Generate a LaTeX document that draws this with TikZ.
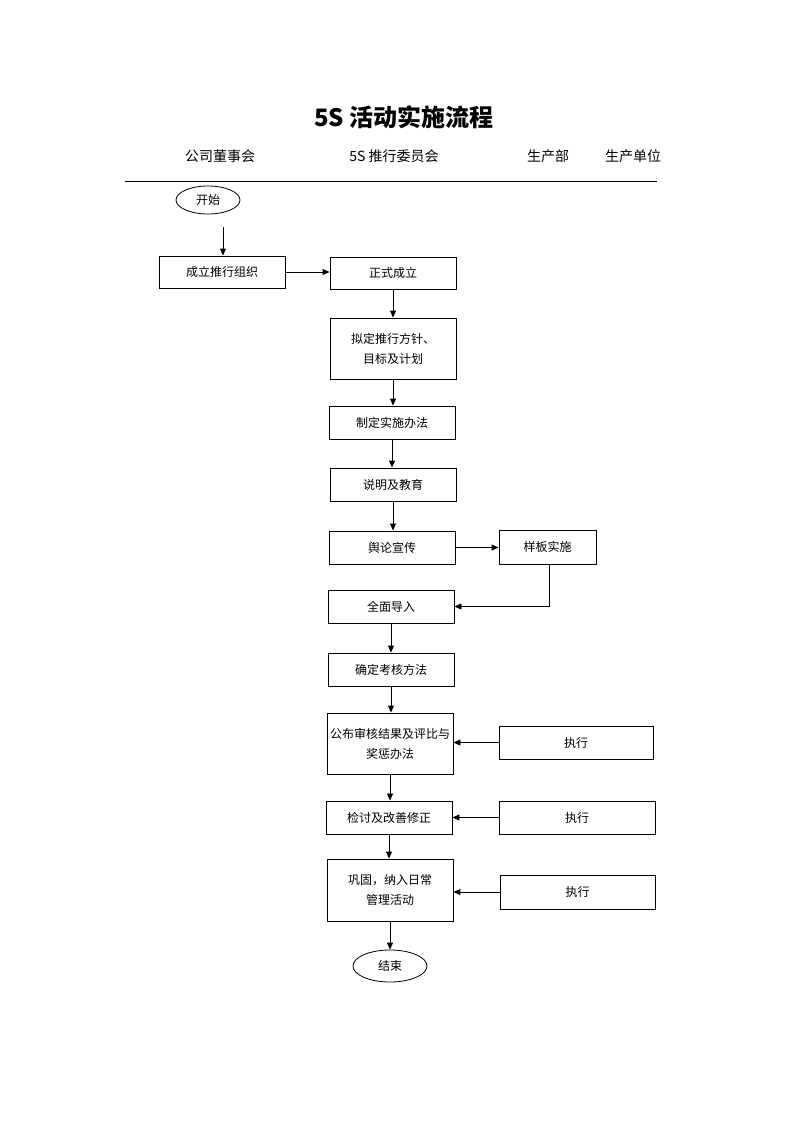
\documentclass[tikz,border=0pt]{standalone}
\usepackage{fontspec}
\setmainfont{Noto Sans CJK SC}
\usetikzlibrary{shapes.geometric,arrows.meta}
\begin{document}
\begin{tikzpicture}[x=1pt,y=-1pt,
  box/.style={draw, line width=0.9pt, inner sep=0pt, align=center, font=\fontsize{12}{20}\selectfont},
  oval/.style={draw, ellipse, line width=0.8pt, inner sep=0pt, font=\fontsize{12}{14}\selectfont},
  arr/.style={line width=0.9pt, -{Triangle[length=7pt,width=6pt]}},
  hdr/.style={font=\fontsize{14}{16}\selectfont, inner sep=0pt},
  rule/.style={line width=0.9pt}]
\useasboundingbox (0,0) rectangle (794,1123);
% title and header
\node[font=\fontsize{24}{28}\selectfont\bfseries, inner sep=0pt] (title) at (404,117) {5S 活动实施流程};
\node[hdr] (h1) at (220,156) {公司董事会};
\node[hdr] (h2) at (394,156) {5S 推行委员会};
\node[hdr] (h3) at (548,156) {生产部};
\node[hdr] (h4) at (633,156) {生产单位};
\coordinate (la) at (125,181);
\coordinate (lb) at (657,181);
\draw[rule] (la) -- (lb);
% nodes
\node[oval, minimum width=64pt, minimum height=28pt] (start) at (208,200) {开始};
\coordinate (a0) at (223,227);
\node[box, minimum width=126pt, minimum height=32pt] (n1) at (222,272) {成立推行组织};
\node[box, minimum width=126pt, minimum height=32pt] (n2) at (393,273) {正式成立};
\node[box, minimum width=126pt, minimum height=61pt] (n3) at (393,348.5) {拟定推行方针、\\目标及计划};
\node[box, minimum width=126pt, minimum height=33pt] (n4) at (392,422.5) {制定实施办法};
\node[box, minimum width=126pt, minimum height=33pt] (n5) at (393,484.5) {说明及教育};
\node[box, minimum width=126pt, minimum height=33pt] (n6) at (392,547.5) {舆论宣传};
\node[box, minimum width=97pt, minimum height=34pt] (s1) at (547.5,547) {样板实施};
\node[box, minimum width=126pt, minimum height=33pt] (n7) at (391,606.5) {全面导入};
\node[box, minimum width=126pt, minimum height=33pt] (n8) at (391,669.5) {确定考核方法};
\node[box, minimum width=126pt, minimum height=61pt] (n9) at (390,743.5) {公布审核结果及评比与\\奖惩办法};
\node[box, minimum width=154pt, minimum height=33pt] (e1) at (576,742.5) {执行};
\node[box, minimum width=126pt, minimum height=33pt] (n10) at (389,817.5) {检讨及改善修正};
\node[box, minimum width=156pt, minimum height=33pt] (e2) at (577,817.5) {执行};
\node[box, minimum width=126pt, minimum height=62pt] (n11) at (390,890) {巩固，纳入日常\\管理活动};
\node[box, minimum width=155pt, minimum height=34pt] (e3) at (577.5,892) {执行};
\node[oval, minimum width=74pt, minimum height=32pt] (end) at (390,966) {结束};
% connectors
\draw[arr] (a0) -- (a0 |- n1.north);
\draw[arr] (n1.east) -- (n1.east -| n2.west);
\draw[arr] (n2.south) -- (n2.south |- n3.north);
\draw[arr] (n3.south) -- (n3.south |- n4.north);
\draw[arr] (n4.south) -- (n4.south |- n5.north);
\draw[arr] (n5.south) -- (n5.south |- n6.north);
\draw[arr] (n6.east) -- (n6.east -| s1.west);
\draw[arr] ([xshift=1.5pt]s1.south) |- ([yshift=0pt]n7.east);
\draw[arr] (n7.south) -- (n7.south |- n8.north);
\draw[arr] (n8.south) -- (n8.south |- n9.north);
\draw[arr] (e1.west) -- (e1.west -| n9.east);
\draw[arr] (n9.south) -- (n9.south |- n10.north);
\draw[arr] (e2.west) -- (e2.west -| n10.east);
\draw[arr] (n10.south) -- (n10.south |- n11.north);
\draw[arr] (e3.west) -- (e3.west -| n11.east);
\draw[arr] (n11.south) -- (n11.south |- end.north);
\end{tikzpicture}
\end{document}
